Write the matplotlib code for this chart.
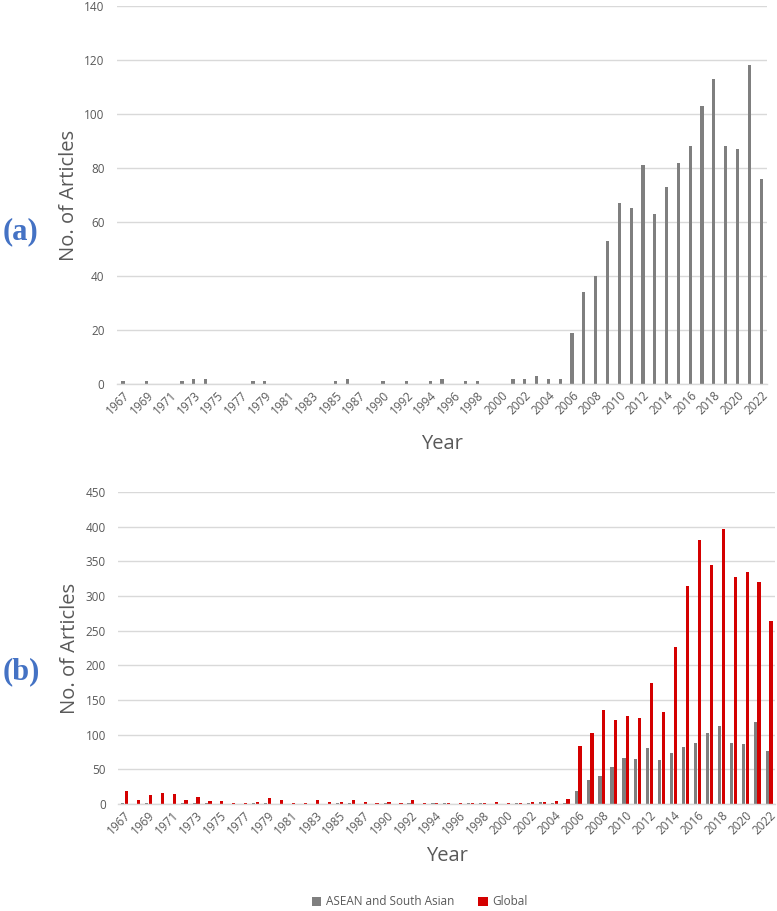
import matplotlib.pyplot as plt
import numpy as np

years = [1967, 1968, 1969, 1970, 1971, 1972, 1973, 1974, 1975, 1976,
         1977, 1978, 1979, 1980, 1981, 1982, 1983, 1984, 1985, 1986,
         1987, 1988, 1990, 1991, 1992, 1993, 1994, 1995, 1996, 1997,
         1998, 1999, 2000, 2001, 2002, 2003, 2004, 2005, 2006, 2007,
         2008, 2009, 2010, 2011, 2012, 2013, 2014, 2015, 2016, 2017,
         2018, 2019, 2020, 2021, 2022]

asean = [1, 0, 1, 0, 0, 1, 2, 2, 0, 0,
         0, 1, 1, 0, 0, 0, 0, 0, 1, 2,
         0, 0, 1, 0, 1, 0, 1, 2, 0, 1,
         1, 0, 0, 2, 2, 3, 2, 2, 19, 34,
         40, 53, 67, 65, 81, 63, 73, 82, 88, 103,
         113, 88, 87, 118, 76]

global_ = [18, 5, 13, 16, 15, 6, 10, 4, 4, 1,
           2, 3, 8, 6, 2, 2, 5, 3, 3, 6,
           3, 2, 3, 1, 5, 1, 1, 2, 1, 1,
           1, 3, 2, 2, 3, 3, 4, 7, 84, 102,
           135, 121, 127, 124, 175, 132, 226, 315, 380, 345,
           397, 328, 335, 320, 264]

GRAY = "#7f7f7f"
RED = "#d40000"
TXT = "#595959"
GRID = "#d9d9d9"
FONT = "Open Sans"

plt.rcParams["font.family"] = [FONT, "DejaVu Sans"]

x = np.arange(len(years))
tick_pos = x[::2]
tick_lab = [str(y) for y in years[::2]]


def style_axis(ax, ymax, step):
    ax.set_xlim(-0.5, len(years) - 0.5)
    ax.set_ylim(0, ymax)
    ax.set_yticks(np.arange(0, ymax + 1, step))
    ax.yaxis.grid(True, color=GRID, linewidth=1.0)
    ax.set_axisbelow(True)
    for s in ["top", "right", "left"]:
        ax.spines[s].set_visible(False)
    ax.spines["bottom"].set_color(GRID)
    ax.spines["bottom"].set_linewidth(1.0)
    ax.tick_params(length=0, colors=TXT, labelsize=8.5)
    ax.tick_params(axis="y", pad=9)
    ax.set_xticks(tick_pos)
    ax.set_xticklabels(tick_lab, rotation=45, ha="right",
                       rotation_mode="anchor", fontsize=8.5, color=TXT)
    ax.set_ylabel("No. of Articles", fontsize=14.5, color=TXT, labelpad=4)
    ax.set_xlabel("Year", fontsize=14.5, color=TXT, labelpad=12)


fig = plt.figure(figsize=(7.77, 9.11), dpi=100)

ax1 = fig.add_axes([0.1506, 0.5785, 0.8366, 0.415])
ax1.bar(x, asean, width=0.27, color=GRAY)
style_axis(ax1, 140, 20)

ax2 = fig.add_axes([0.1525, 0.1175, 0.845, 0.3425])
w = 0.27
ax2.bar(x - 0.16, asean, width=w, color=GRAY, label="ASEAN and South Asian")
ax2.bar(x + 0.16, global_, width=w, color=RED, label="Global")
style_axis(ax2, 450, 50)
ax2.xaxis.labelpad = 6

leg = ax2.legend(loc="center", bbox_to_anchor=(0.459, -0.314), ncol=2,
                 frameon=False, fontsize=8.5, handlelength=0.8,
                 handleheight=0.8, columnspacing=2.0, handletextpad=0.4,
                 borderaxespad=0, borderpad=0.1)
for t in leg.get_texts():
    t.set_color(TXT)

fig.text(0.003, 1 - 232 / 911, "(a)", family="Liberation Serif",
         fontweight="bold", fontsize=22, color="#4472c4", va="center")
fig.text(0.003, 1 - 672 / 911, "(b)", family="Liberation Serif",
         fontweight="bold", fontsize=22, color="#4472c4", va="center")

fig.savefig("out.png", dpi=100)
